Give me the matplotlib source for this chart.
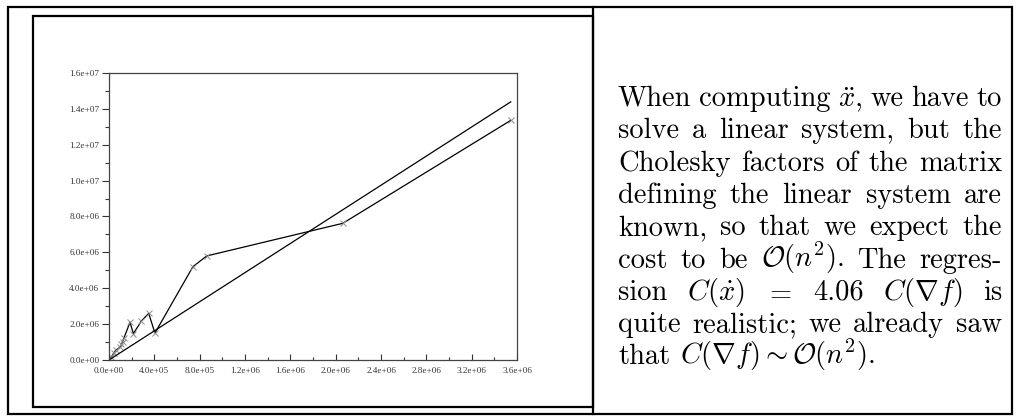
import matplotlib
matplotlib.use("Agg")
import matplotlib.pyplot as plt
from matplotlib.ticker import MultipleLocator, FormatStrFormatter
from matplotlib.patches import Rectangle

# measured cost points (x: C(grad f), y: C(xdot))
cost_grad = [0.0, 0.02e6, 0.04e6, 0.06e6, 0.10e6, 0.11e6, 0.12e6, 0.13e6,
             0.185e6, 0.215e6, 0.285e6, 0.35e6, 0.405e6, 0.74e6, 0.862e6,
             2.063e6, 3.545e6]
cost_xdot = [0.0, 0.15e6, 0.37e6, 0.55e6, 0.72e6, 0.88e6, 1.02e6, 1.2e6,
             2.10e6, 1.47e6, 2.17e6, 2.60e6, 1.50e6, 5.20e6, 5.80e6,
             7.62e6, 13.36e6]
slope = 4.06  # regression C(xdot) = 4.06 C(grad f)

text_lines = [
    ["When", "computing", r"$\ddot{x}$,", "we", "have", "to"],
    ["solve", "a", "linear", "system,", "but", "the"],
    ["Cholesky", "factors", "of", "the", "matrix"],
    ["defining", "the", "linear", "system", "are"],
    ["known,", "so", "that", "we", "expect", "the"],
    ["cost", "to", "be", r"$\mathcal{O}(n^2)$.", "The", "regres-"],
    ["sion", r"$C(\dot{x})$", r"$=$", "4.06", r"$C(\nabla f)$", "is"],
    ["quite", "realistic;", "we", "already", "saw"],
    ["that", r"$C(\nabla f) \sim \mathcal{O}(n^2)$."],
]

plt.rcParams['mathtext.fontset'] = 'cm'

fig = plt.figure(figsize=(10.19, 4.18), dpi=100)

# overlay in pixel units for the frames and the text
ov = fig.add_axes([0, 0, 1, 1])
ov.set_xlim(0, 1019)
ov.set_ylim(418, 0)
ov.axis('off')
ov.add_patch(Rectangle((8, 7), 1004, 407, fill=False, ec='k', lw=1.6))
ov.add_patch(Rectangle((33, 16), 560, 391, fill=False, ec='k', lw=1.6))
ov.plot([593, 593], [7, 414], color='k', lw=1.6)

ax = fig.add_axes([0.107, 0.1388, 0.4004, 0.6866])
ax.plot(cost_grad, cost_xdot, color='k', lw=0.9, marker='x', ms=4.5,
        mec='#8c8c8c', mew=0.7)
reg_x = [0.0, max(cost_grad)]
ax.plot(reg_x, [slope * v for v in reg_x], color='k', lw=0.9)

ax.set_xlim(0, 3.6e6)
ax.set_ylim(0, 1.6e7)
ax.xaxis.set_major_locator(MultipleLocator(4e5))
ax.xaxis.set_minor_locator(MultipleLocator(2e5))
ax.yaxis.set_major_locator(MultipleLocator(2e6))
ax.yaxis.set_minor_locator(MultipleLocator(1e6))
ax.xaxis.set_major_formatter(FormatStrFormatter('%.1e'))
ax.yaxis.set_major_formatter(FormatStrFormatter('%.1e'))
ax.tick_params(axis='x', which='major', direction='in', length=4, width=0.8,
               color='#333333', pad=5)
ax.tick_params(axis='x', which='minor', direction='in', length=2, width=0.8,
               color='#333333')
ax.tick_params(axis='y', which='major', direction='out', length=5, width=0.8,
               color='#333333', pad=2)
ax.tick_params(axis='y', which='minor', direction='out', length=3, width=0.8,
               color='#333333')
for lab in ax.get_xticklabels() + ax.get_yticklabels():
    lab.set_fontfamily('Liberation Serif')
    lab.set_fontsize(6.6)
    lab.set_color('#333333')
for sp in ax.spines.values():
    sp.set_color('#444444')
    sp.set_linewidth(0.9)

# justified paragraph on the right
fig.canvas.draw()
renderer = fig.canvas.get_renderer()
left, right = 618, 1002
base0, step = 106, 32.3
fs = 20.5
for i, toks in enumerate(text_lines):
    y = base0 + i * step
    arts = [ov.text(0, y, t, fontsize=fs, family='cmr10', va='baseline',
                    ha='left') for t in toks]
    widths = [a.get_window_extent(renderer).width for a in arts]
    if i == len(text_lines) - 1:
        gap = 0.333 * fs * 100 / 72
    else:
        gap = (right - left - sum(widths)) / (len(toks) - 1)
    x = left
    for a, w in zip(arts, widths):
        a.set_x(x)
        x += w + gap

fig.savefig("out.png", dpi=100)
